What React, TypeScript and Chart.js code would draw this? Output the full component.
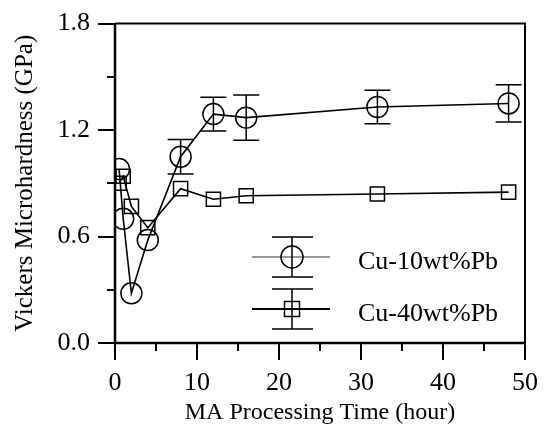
import { useEffect, useRef } from "react";
import { Chart, registerables } from "chart.js";

Chart.register(...registerables);

// Milling time (hours) and Vickers microhardness (GPa) for both alloys
const hours10 = [0.5, 1, 2, 4, 8, 12, 16, 32, 48];
const hardness10 = [0.98, 0.7, 0.28, 0.58, 1.05, 1.29, 1.27, 1.33, 1.35];
const error10 = [0, 0, 0, 0, 0.097, 0.095, 0.127, 0.094, 0.105];

const hours40 = [0.5, 1, 2, 4, 8, 12, 16, 32, 48];
const hardness40 = [0.9, 0.94, 0.77, 0.65, 0.87, 0.81, 0.83, 0.84, 0.85];

const seriesNames = ["Cu-10wt%Pb", "Cu-40wt%Pb"];
const xTitle = "MA Processing Time (hour)";
const yTitle = "Vickers Microhardness (GPa)";

const X_MIN = 0;
const X_MAX = 50;
const X_STEP = 10;
const Y_MIN = 0;
const Y_MAX = 1.8;
const Y_STEP = 0.6;

const SERIF = "'Liberation Serif', 'Times New Roman', serif";

// Outward major/minor ticks plus the closed frame around the plot
const frameAndTicks = {
  id: "frameAndTicks",
  afterDraw(chart: any) {
    const { ctx, chartArea } = chart;
    const { left, right, top, bottom } = chartArea;
    const xs = chart.scales.x;
    const ys = chart.scales.y;
    ctx.save();
    ctx.strokeStyle = "#000";
    ctx.lineCap = "butt";

    const xMajor = xs.ticks.map((t: any) => t.value);
    const yMajor = ys.ticks.map((t: any) => t.value);

    ctx.lineWidth = 2;
    ctx.beginPath();
    xMajor.forEach((v: number) => {
      const px = Math.round(xs.getPixelForValue(v));
      ctx.moveTo(px, bottom);
      ctx.lineTo(px, bottom + 17);
    });
    for (let i = 0; i < xMajor.length - 1; i++) {
      const px = Math.round(xs.getPixelForValue((xMajor[i] + xMajor[i + 1]) / 2));
      ctx.moveTo(px, bottom);
      ctx.lineTo(px, bottom + 8);
    }
    yMajor.forEach((v: number) => {
      const py = Math.round(ys.getPixelForValue(v));
      ctx.moveTo(left, py);
      ctx.lineTo(left - 17, py);
    });
    for (let i = 0; i < yMajor.length - 1; i++) {
      const py = Math.round(ys.getPixelForValue((yMajor[i] + yMajor[i + 1]) / 2));
      ctx.moveTo(left, py);
      ctx.lineTo(left - 8, py);
    }
    ctx.stroke();

    ctx.lineWidth = 2.5;
    ctx.beginPath();
    ctx.moveTo(left, top);
    ctx.lineTo(left, bottom);
    ctx.lineTo(right, bottom);
    ctx.stroke();
    ctx.lineWidth = 2;
    ctx.beginPath();
    ctx.moveTo(left, top);
    ctx.lineTo(right, top);
    ctx.lineTo(right, bottom);
    ctx.stroke();
    ctx.restore();
  },
};

// Vertical error bars with caps for the Cu-10wt%Pb series
const errorBars = {
  id: "errorBars",
  afterDatasetsDraw(chart: any) {
    const { ctx } = chart;
    const xs = chart.scales.x;
    const ys = chart.scales.y;
    ctx.save();
    ctx.strokeStyle = "#000";
    ctx.lineWidth = 1.5;
    ctx.beginPath();
    hours10.forEach((h, i) => {
      const e = error10[i];
      if (!e) return;
      const px = xs.getPixelForValue(h);
      const yTop = ys.getPixelForValue(hardness10[i] + e);
      const yBot = ys.getPixelForValue(hardness10[i] - e);
      ctx.moveTo(px, yTop);
      ctx.lineTo(px, yBot);
      ctx.moveTo(px - 13, yTop);
      ctx.lineTo(px + 13, yTop);
      ctx.moveTo(px - 13, yBot);
      ctx.lineTo(px + 13, yBot);
    });
    ctx.stroke();
    ctx.restore();
  },
};

// Legend with marker, line and error-bar samples
const sampleLegend = {
  id: "sampleLegend",
  afterDraw(chart: any) {
    const { ctx } = chart;
    ctx.save();
    ctx.strokeStyle = "#000";
    const cx = 292;
    const rows = [
      { y: 257, lw: 1, marker: "circle" },
      { y: 309, lw: 2, marker: "rect" },
    ];
    rows.forEach((r, i) => {
      ctx.lineWidth = r.lw;
      ctx.strokeStyle = i === 0 ? "#333" : "#000";
      ctx.beginPath();
      ctx.moveTo(252, r.y);
      ctx.lineTo(330, r.y);
      ctx.stroke();
      ctx.strokeStyle = "#000";
      ctx.lineWidth = 1.5;
      ctx.beginPath();
      ctx.moveTo(cx, r.y - 20);
      ctx.lineTo(cx, r.y + 20);
      ctx.moveTo(cx - 20, r.y - 20);
      ctx.lineTo(cx + 21, r.y - 20);
      ctx.moveTo(cx - 20, r.y + 20);
      ctx.lineTo(cx + 21, r.y + 20);
      ctx.stroke();
      ctx.beginPath();
      if (r.marker === "circle") {
        ctx.arc(cx, r.y, 11, 0, Math.PI * 2);
      } else {
        ctx.rect(cx - 7.5, r.y - 7.5, 15, 15);
      }
      ctx.stroke();
      ctx.fillStyle = "#000";
      ctx.font = `26px ${SERIF}`;
      ctx.textAlign = "left";
      ctx.textBaseline = "middle";
      ctx.fillText(seriesNames[i], 358, r.y + 5);
    });
    ctx.restore();
  },
};

export default function App() {
  const canvasRef = useRef<HTMLCanvasElement | null>(null);

  useEffect(() => {
    if (!canvasRef.current) return;
    const chart = new Chart(canvasRef.current, {
      type: "scatter",
      data: {
        datasets: [
          {
            label: seriesNames[0],
            data: hours10.map((h, i) => ({ x: h, y: hardness10[i] })),
            showLine: true,
            tension: 0,
            borderColor: "#000",
            borderWidth: 1.6,
            pointStyle: "circle",
            pointRadius: 10.5,
            pointBorderWidth: 1.5,
            pointBorderColor: "#000",
            pointBackgroundColor: "rgba(0,0,0,0)",
          },
          {
            label: seriesNames[1],
            data: hours40.map((h, i) => ({ x: h, y: hardness40[i] })),
            showLine: true,
            tension: 0,
            borderColor: "#000",
            borderWidth: 1.6,
            pointStyle: "rect",
            pointRadius: 10,
            pointBorderWidth: 1.5,
            pointBorderColor: "#000",
            pointBackgroundColor: "rgba(0,0,0,0)",
          },
        ],
      },
      options: {
        animation: false,
        responsive: true,
        maintainAspectRatio: false,
        layout: { padding: { left: 0, right: 25, top: 16, bottom: 0 } },
        plugins: {
          legend: { display: false },
          tooltip: { enabled: false },
        },
        scales: {
          x: {
            type: "linear",
            min: X_MIN,
            max: X_MAX,
            afterFit: (s: any) => {
              s.height = 90;
            },
            ticks: {
              stepSize: X_STEP,
              padding: 8,
              color: "#000",
              font: { family: SERIF, size: 26 },
              maxRotation: 0,
            },
            grid: {
              display: true,
              drawOnChartArea: false,
              drawTicks: true,
              tickLength: 17,
              color: "rgba(0,0,0,0)",
            },
            border: { display: false },
            title: {
              display: true,
              text: xTitle,
              color: "#000",
              font: { family: SERIF, size: 24 },
              padding: { top: 0, bottom: 6 },
            },
          },
          y: {
            type: "linear",
            min: Y_MIN,
            max: Y_MAX,
            afterFit: (s: any) => {
              s.width = 115;
            },
            ticks: {
              stepSize: Y_STEP,
              padding: 8,
              color: "#000",
              font: { family: SERIF, size: 26 },
              callback: (v: any) => Number(v).toFixed(1),
            },
            grid: {
              display: true,
              drawOnChartArea: false,
              drawTicks: true,
              tickLength: 17,
              color: "rgba(0,0,0,0)",
            },
            border: { display: false },
            title: {
              display: true,
              text: yTitle,
              color: "#000",
              font: { family: SERIF, size: 25 },
              padding: { top: 10, bottom: 0 },
            },
          },
        },
      },
      plugins: [errorBars, frameAndTicks, sampleLegend],
    });
    return () => chart.destroy();
  }, []);

  return (
    <div
      style={{
        position: "fixed",
        left: 0,
        top: 0,
        width: 550,
        height: 433,
        background: "#fff",
      }}
    >
      <canvas ref={canvasRef} />
    </div>
  );
}
